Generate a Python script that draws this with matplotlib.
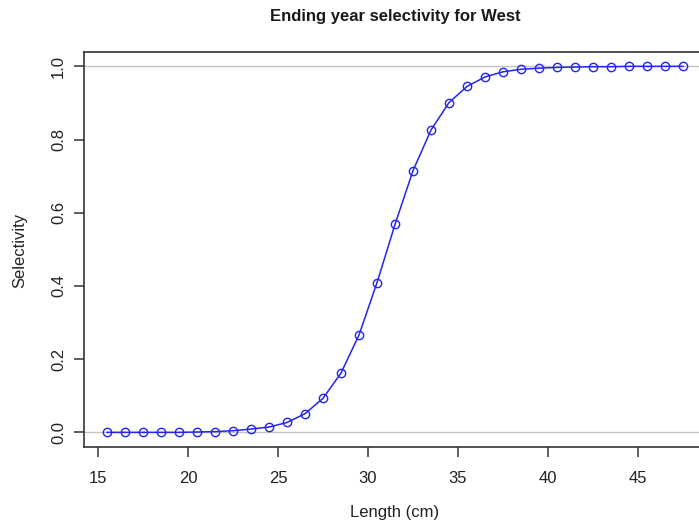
import matplotlib
matplotlib.use("Agg")
import matplotlib.pyplot as plt
import numpy as np

# length bins (cm) and selectivity
length = np.arange(15.5, 48.0, 1.0)
selectivity = [0.000, 0.000, 0.000, 0.000, 0.000, 0.001, 0.002, 0.0045,
               0.009, 0.0145, 0.027, 0.051, 0.093, 0.162, 0.266, 0.409,
               0.568, 0.715, 0.826, 0.901, 0.945, 0.971, 0.985, 0.992,
               0.995, 0.997, 0.998, 0.999, 0.999, 1.000, 1.000, 1.000, 1.000]
yticks = [0.0, 0.2, 0.4, 0.6, 0.8, 1.0]
xticks = [15, 20, 25, 30, 35, 40, 45]

plt.rcParams['font.family'] = ['Liberation Sans', 'DejaVu Sans']

W, H = 699, 526
fig = plt.figure(figsize=(W / 100, H / 100), dpi=100)
# plot box runs past the right edge of the picture, as in the reference
ax = fig.add_axes([84 / W, (H - 447) / H, (706 - 84) / W, (447 - 51.7) / H])

ax.axhline(0, color='#c4c4c4', lw=1, zorder=1)
ax.axhline(1, color='#c4c4c4', lw=1, zorder=1)
ax.plot(length, selectivity, color='#2424ee', lw=1.1, marker='o',
        markersize=6, markerfacecolor='none', markeredgewidth=1.0, zorder=3)

ax.set_xlim(14.22, 48.78)
ax.set_ylim(-0.04, 1.04)
ax.set_xticks(xticks)
ax.set_yticks(yticks)
ax.set_yticklabels([f"{v:.1f}" for v in yticks], rotation=90, va='center')

for s in ['left', 'bottom', 'top']:
    ax.spines[s].set_color('#333333')
    ax.spines[s].set_linewidth(1.2)
ax.spines['right'].set_visible(False)
ax.tick_params(axis='both', colors='#333333', labelcolor='#222222',
               labelsize=12, length=7, width=1.1)
ax.tick_params(axis='x', pad=10)
ax.tick_params(axis='y', pad=6)

fig.text(395 / W, 1 - 16 / H, "Ending year selectivity for West",
         ha='center', va='center', fontsize=12, fontweight='bold',
         color='#1a1a1a')
fig.text(395 / W, 1 - 513 / H, "Length (cm)", ha='center', va='center',
         fontsize=12, color='#222222')
fig.text(20 / W, 1 - 250 / H, "Selectivity", ha='center', va='center',
         rotation=90, fontsize=12, color='#222222')

fig.savefig("out.png", dpi=100)
